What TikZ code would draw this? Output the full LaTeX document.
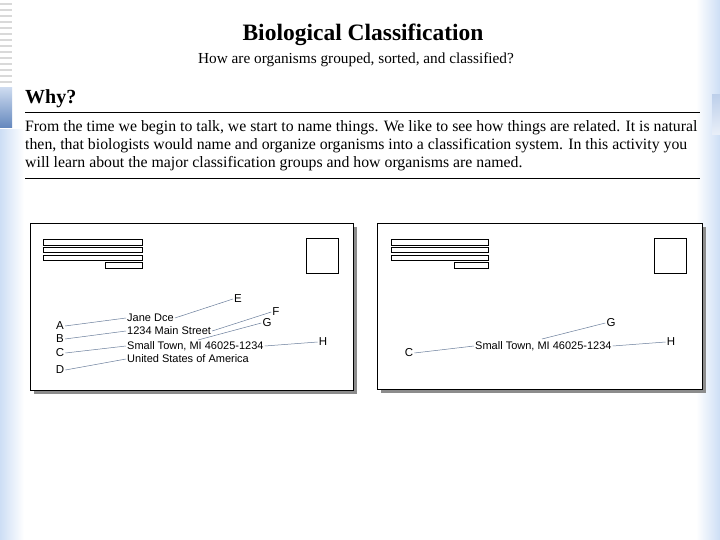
\documentclass[tikz,border=0pt]{standalone}
\usepackage{fontspec}
\setmainfont{Liberation Serif}
\newfontfamily\addrfont{Liberation Sans}
\usetikzlibrary{positioning, calc}
\definecolor{myslate}{RGB}{105,125,155}
\definecolor{myshadow}{RGB}{140,140,140}
\definecolor{myblue}{RGB}{110,150,210}
\definecolor{mypale}{RGB}{205,222,245}
\tikzset{
  envelope/.style={draw=black, fill=white, line width=0.8pt},
  shadow/.style={fill=myshadow},
  bar/.style={draw=black, fill=white, line width=0.7pt},
  addr/.style={font=\addrfont\fontsize{11}{13}\selectfont, inner sep=1pt, anchor=west},
  tag/.style={font=\addrfont\fontsize{11.5}{13}\selectfont, inner sep=1pt},
  pointer/.style={myslate, line width=0.5pt},
  textline/.style={font=\fontsize{15.8}{18}\selectfont, anchor=base west, inner sep=0pt},
  rule/.style={line width=0.8pt}
}

\begin{document}
\begin{tikzpicture}[x=1pt,y=-1pt]
  \useasboundingbox (0,0) rectangle (720,540);
  % Slide background
  \fill[white] (0,0) rectangle (720,540);
  \shade[left color=mypale, right color=white] (0,130) rectangle (24,540);
  \foreach \y in {4,10,...,82} \draw[gray!30, line width=1.5pt] (0,\y) -- (12,\y);
  \shade[top color=myblue!35, bottom color=myblue!90!black] (0,88) rectangle (12,128);
  \shade[left color=white, right color=mypale] (696,0) rectangle (720,540);
  \shade[top color=myblue!45, bottom color=myblue!15] (712,95) rectangle (720,135);

  % Heading
  \node[font=\bfseries\fontsize{23.5}{28}\selectfont] (title) at (363,35) {Biological Classification};
  \node[font=\fontsize{15.3}{18}\selectfont] (subtitle) at (356,60) {How are organisms grouped, sorted, and classified?};
  \node[font=\bfseries\fontsize{20}{24}\selectfont, anchor=base west, inner sep=0pt] (why) at (25,104) {Why?};
  \draw[rule] (25,112) -- (700,112);
  \node[textline] (line1) at (25,132) {From the time we begin to talk, we start to name things. We like to see how things are related. It is natural};
  \node[textline] (line2) at (25,150) {then, that biologists would name and organize organisms into a classification system. In this activity you};
  \node[textline] (line3) at (25,168) {will learn about the major classification groups and how organisms are named.};
  \draw[rule] (25,178) -- (700,178);

  % Left envelope
  \fill[shadow] (34,227) rectangle (357,394);
  \draw[envelope] (30,223) rectangle (353,390);
  \draw[bar] (43,239) rectangle (142,245);
  \draw[bar] (43,247) rectangle (142,252);
  \draw[bar] (43,255) rectangle (142,260);
  \draw[bar] (105,262) rectangle (142,268);
  \draw[bar] (306,238) rectangle (338,273);

  \node[addr] (name1) at (126,318) {Jane Dce};
  \node[addr] (street1) at (126,331) {1234 Main Street};
  \node[addr] (town1) at (126,346) {Small Town, MI 46025-1234};
  \node[addr] (country1) at (126,359) {United States of America};
  \coordinate (state1) at (198,340);

  \node[tag] (a1) at (60,326) {A};
  \node[tag] (b1) at (60,339) {B};
  \node[tag] (c1) at (60,353) {C};
  \node[tag] (d1) at (60,370) {D};
  \node[tag] (e1) at (238,299) {E};
  \node[tag] (f1) at (276,312) {F};
  \node[tag] (g1) at (267,323) {G};
  \node[tag] (h1) at (323,342) {H};

  \draw[pointer] (a1.east) -- (name1.west);
  \draw[pointer] (b1.east) -- (street1.west);
  \draw[pointer] (c1.east) -- (town1.west);
  \draw[pointer] (d1.east) -- (country1.west);
  \draw[pointer] (name1.east) -- (e1.west);
  \draw[pointer] (street1.east) -- (f1.west);
  \draw[pointer] (state1) -- (g1.west);
  \draw[pointer] (town1.east) -- (h1.west);

  % Right envelope
  \fill[shadow] (381,227) rectangle (706,393);
  \draw[envelope] (377,223) rectangle (702,389);
  \draw[bar] (391,239) rectangle (488,245);
  \draw[bar] (391,247) rectangle (488,252);
  \draw[bar] (391,255) rectangle (488,260);
  \draw[bar] (454,262) rectangle (488,268);
  \draw[bar] (654,238) rectangle (686,273);

  \node[addr] (town2) at (474,346) {Small Town, MI 46025-1234};
  \coordinate (state2) at (542,339);

  \node[tag] (c2) at (409,353) {C};
  \node[tag] (g2) at (611,323) {G};
  \node[tag] (h2) at (671,342) {H};

  \draw[pointer] (c2.east) -- (town2.west);
  \draw[pointer] (state2) -- (g2.west);
  \draw[pointer] (town2.east) -- (h2.west);
\end{tikzpicture}
\end{document}
